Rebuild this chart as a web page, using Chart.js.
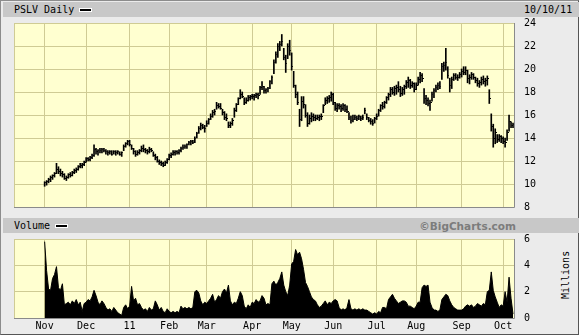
<!DOCTYPE html>
<html>
<head>
<meta charset="utf-8">
<script src="https://cdn.jsdelivr.net/npm/chart.js@4.4.0/dist/chart.umd.min.js"></script>
<style>
  body { margin: 0; width: 579px; height: 335px; background: #ebebeb; position: relative; overflow: hidden;
         font-family: "DejaVu Sans Mono", monospace; font-size: 10px; color: #000; }
  .frame { position: absolute; left: 0; top: 0; width: 577px; height: 333px; border: 1px solid #8c8c8c;
           border-right-color: #555; border-bottom-color: #555; }
  .band { position: absolute; left: 3px; width: 576px; height: 15px; background: #c8c8c8; }
  .txt { position: absolute; line-height: 12px; white-space: nowrap; }
  .dash { position: absolute; width: 11px; height: 2px; background: #000; border: 1px solid #fff; }
  canvas { position: absolute; left: 0; }
  #pc { top: 0; }
  #vc { top: 230px; }
  .mil { position: absolute; left: 542px; top: 269px; width: 48px; text-align: center; transform: rotate(-90deg);
         line-height: 12px; }
</style>
</head>
<body>
<div class="frame"></div>
<div class="band" style="top:2px"></div>
<div class="band" style="top:218px"></div>
<div class="txt" style="left:14px;top:4px">PSLV Daily</div>
<div class="dash" style="left:79px;top:8px"></div>
<div class="txt" style="left:524px;top:4px">10/10/11</div>
<div class="txt" style="left:14px;top:220px">Volume</div>
<div class="dash" style="left:55px;top:224px"></div>
<div class="txt" style="left:380px;width:136px;text-align:right;top:220px;font-family:'DejaVu Sans',sans-serif;font-weight:bold;color:#7c7c7c;font-size:10.5px">©BigCharts.com</div>
<div class="mil">Millions</div>
<canvas id="pc" width="579" height="215"></canvas>
<canvas id="vc" width="579" height="105"></canvas>
<script>
// trading days Oct 11 2010 .. Oct 10 2011; PSLV data begins Nov 1 2010 (index 15)
const leadDays = 15
const monthNames = ['Nov', 'Dec', '11', 'Feb', 'Mar', 'Apr', 'May', 'Jun', 'Jul', 'Aug', 'Sep', 'Oct']
const monthStart = [15, 36, 58, 78, 97, 120, 140, 161, 183, 203, 226, 247]
const priceTicks = [8, 10, 12, 14, 16, 18, 20, 22, 24]
const volumeTicks = [0, 2, 4, 6]

const low = [
  9.8, 9.9, 10.1, 10.2, 10.4, 10.6, 10.9, 10.9, 10.7, 10.6, 10.4, 10.3, 10.5, 10.6, 10.7, 10.9, 11.0, 11.2, 11.4, 11.4, 11.6,
  11.9, 12.0, 12.0, 12.2, 12.4, 12.6, 12.5, 12.7, 12.7, 12.8, 12.6, 12.5, 12.6, 12.5, 12.6, 12.5, 12.6, 12.5, 12.4, 12.9, 13.2, 13.4,
  13.3, 13.0, 12.6, 12.4, 12.5, 12.6, 12.8, 12.8, 12.7, 12.6, 12.7, 12.8, 12.4, 12.1, 11.9, 11.7, 11.6, 11.5, 11.6, 11.8,
  12.1, 12.3, 12.5, 12.5, 12.6, 12.6, 12.8, 13.0, 13.1, 13.1, 13.4, 13.4, 13.5, 13.6, 14.0, 14.4, 14.7, 14.8, 14.5,
  15.0, 15.2, 15.6, 15.8, 16.0, 16.5, 16.6, 16.5, 16.0, 15.6, 15.5, 14.9, 14.9, 15.1, 15.8, 16.3, 16.9, 17.4, 17.5, 16.9, 17.0, 17.2, 17.3,
  17.4, 17.3, 17.5, 17.4, 17.8, 18.2, 17.9, 17.9, 18.0, 18.3, 18.7, 19.6, 20.5, 21.0, 21.6, 22.0, 20.8, 19.7, 20.9, 21.2,
  19.9, 18.4, 17.5, 16.9, 15.0, 15.5, 16.6, 15.8, 15.0, 15.2, 15.4, 15.5, 15.5, 15.6, 15.5, 15.6, 16.2, 16.9, 17.0, 17.1, 17.2,
  16.9, 16.4, 16.3, 16.5, 16.3, 16.4, 16.3, 16.2, 15.6, 15.3, 15.4, 15.6, 15.5, 15.6, 15.5, 15.6, 16.1, 15.6, 15.4, 15.2, 15.1, 15.3,
  15.6, 15.9, 16.3, 16.5, 16.6, 17.0, 17.3, 17.6, 17.8, 17.7, 17.8, 18.0, 17.6, 17.7, 17.8, 18.3, 18.4, 18.3, 18.4, 18.0,
  18.2, 18.6, 18.8, 18.9, 17.0, 16.9, 16.8, 16.4, 17.2, 17.5, 18.0, 18.2, 18.3, 19.1, 19.8, 19.9, 19.2, 18.0, 18.3, 19.0, 19.1, 19.0, 19.2,
  19.3, 19.5, 19.5, 18.8, 18.7, 19.1, 19.1, 18.8, 18.5, 18.4, 18.6, 18.7, 18.5, 18.6, 17.0, 14.6, 13.2, 13.5, 13.6, 13.7, 13.6,
  13.5, 13.2, 13.8, 14.6, 14.9, 14.9
]
const high = [
  10.2, 10.3, 10.5, 10.7, 10.8, 11.0, 11.8, 11.5, 11.3, 11.1, 10.9, 10.7, 10.9, 11.0, 11.1, 11.3, 11.4, 11.6, 11.8, 11.8, 12.0,
  12.3, 12.3, 12.4, 12.6, 13.4, 13.1, 13.0, 13.1, 13.1, 13.1, 13.0, 12.9, 12.9, 12.9, 12.9, 12.9, 12.9, 12.8, 12.8, 13.4, 13.6, 13.8,
  13.8, 13.4, 13.1, 12.9, 12.9, 13.0, 13.3, 13.4, 13.1, 13.0, 13.2, 13.1, 12.8, 12.6, 12.4, 12.1, 12.0, 11.9, 12.0, 12.2,
  12.6, 12.7, 12.9, 12.9, 12.9, 13.0, 13.2, 13.4, 13.4, 13.5, 13.7, 13.8, 13.8, 14.1, 14.5, 15.0, 15.3, 15.2, 15.1,
  15.5, 15.7, 16.1, 16.4, 16.5, 17.1, 17.0, 17.0, 16.5, 16.3, 16.1, 15.4, 15.4, 15.7, 16.6, 17.0, 17.5, 18.2, 18.0, 17.5, 17.5, 17.7, 17.7,
  17.8, 17.8, 17.9, 17.9, 18.5, 18.9, 18.5, 18.3, 18.4, 19.0, 19.4, 20.8, 21.5, 22.2, 22.4, 23.0, 21.8, 21.2, 22.2, 22.5,
  21.4, 19.8, 18.6, 18.0, 16.5, 17.6, 17.6, 16.9, 16.2, 16.0, 16.2, 16.1, 16.0, 16.0, 16.0, 16.1, 16.9, 17.5, 17.6, 17.7, 18.0,
  17.9, 17.1, 17.0, 17.0, 16.9, 17.0, 16.9, 16.8, 16.2, 15.9, 16.0, 16.0, 15.9, 16.0, 15.9, 16.0, 16.6, 16.1, 15.8, 15.7, 15.6, 15.8,
  16.1, 16.5, 16.9, 17.1, 17.2, 17.6, 17.9, 18.4, 18.4, 18.5, 18.6, 18.9, 18.5, 18.4, 18.6, 19.0, 19.3, 19.1, 18.9, 18.8,
  18.8, 19.3, 19.7, 19.6, 18.3, 17.7, 17.5, 17.3, 18.0, 18.3, 18.6, 18.8, 18.9, 20.5, 20.6, 21.8, 20.2, 19.2, 19.3, 19.6, 19.6, 19.5, 19.7,
  20.0, 20.2, 20.2, 19.9, 19.5, 19.7, 19.6, 19.3, 19.2, 19.0, 19.3, 19.4, 19.2, 19.4, 18.2, 16.1, 15.2, 14.8, 14.3, 14.3, 14.2,
  14.1, 14.0, 14.7, 16.0, 15.4, 15.3
]
const close = [
  10.1, 10.2, 10.4, 10.6, 10.7, 10.9, 11.3, 11.1, 10.9, 10.8, 10.5, 10.6, 10.8, 10.7, 11.0, 11.2, 11.3, 11.5, 11.6, 11.7, 11.9,
  12.2, 12.1, 12.3, 12.5, 13.0, 12.8, 12.9, 12.9, 13.0, 12.9, 12.8, 12.7, 12.8, 12.6, 12.8, 12.7, 12.8, 12.6, 12.7, 13.3, 13.5, 13.7,
  13.4, 13.1, 12.8, 12.6, 12.7, 12.9, 13.1, 13.0, 12.9, 12.8, 13.0, 12.9, 12.5, 12.3, 12.0, 11.9, 11.8, 11.6, 11.9, 12.1,
  12.5, 12.6, 12.7, 12.8, 12.7, 12.9, 13.1, 13.2, 13.3, 13.4, 13.6, 13.7, 13.6, 14.0, 14.4, 14.8, 15.1, 14.9, 14.8,
  15.3, 15.6, 15.9, 16.2, 16.3, 16.8, 16.7, 16.6, 16.2, 15.8, 15.7, 15.1, 15.3, 15.5, 16.4, 16.9, 17.4, 17.8, 17.6, 17.1, 17.3, 17.5, 17.6,
  17.6, 17.7, 17.8, 17.7, 18.4, 18.5, 18.1, 18.2, 18.3, 18.9, 19.3, 20.6, 21.3, 22.0, 22.1, 22.4, 21.0, 20.5, 22.0, 21.6,
  20.2, 18.6, 17.8, 17.1, 15.6, 17.2, 16.9, 16.0, 15.3, 15.7, 15.9, 15.8, 15.7, 15.8, 15.9, 15.9, 16.8, 17.3, 17.4, 17.5, 17.8,
  17.1, 16.6, 16.8, 16.7, 16.6, 16.8, 16.5, 16.3, 15.8, 15.5, 15.6, 15.8, 15.7, 15.9, 15.7, 15.8, 16.4, 15.8, 15.5, 15.4, 15.3, 15.7,
  15.9, 16.4, 16.8, 16.7, 17.1, 17.5, 17.8, 18.2, 18.0, 18.3, 18.4, 18.2, 17.9, 18.2, 18.5, 18.8, 19.0, 18.6, 18.7, 18.2,
  18.6, 19.1, 19.4, 19.2, 17.4, 17.3, 17.0, 17.1, 17.8, 18.1, 18.4, 18.6, 18.5, 20.2, 20.3, 20.6, 19.4, 18.6, 19.1, 19.4, 19.3, 19.3, 19.5,
  19.8, 19.7, 19.9, 19.2, 19.3, 19.5, 19.3, 19.0, 18.7, 18.8, 19.1, 18.9, 19.0, 19.2, 17.4, 15.0, 14.0, 14.5, 13.9, 14.1, 14.0,
  13.7, 13.6, 14.5, 15.4, 15.1, 15.2
]
// volume, millions of shares
const volume = [
  5.8, 3.6, 2.2, 2.1, 3.0, 3.3, 3.9, 2.3, 2.1, 2.6, 1.0, 1.1, 1.2, 1.0, 1.3, 1.1, 1.4, 1.0, 1.2, 0.5, 1.1,
  1.2, 1.4, 1.3, 1.6, 2.1, 1.7, 1.2, 1.0, 1.3, 1.1, 0.8, 0.6, 0.7, 0.5, 0.8, 0.6, 0.4, 0.3, 0.2, 0.8, 1.0, 0.7,
  0.9, 2.4, 1.3, 1.5, 1.0, 1.1, 0.8, 0.6, 0.7, 0.5, 0.8, 0.6, 0.7, 1.3, 1.0, 0.6, 0.8, 0.5, 0.4, 0.7,
  0.5, 0.4, 0.5, 0.4, 0.5, 0.4, 0.9, 0.7, 0.8, 0.7, 0.8, 0.7, 0.8, 2.0, 2.1, 1.9, 1.3, 1.0, 1.2,
  1.1, 1.3, 1.5, 1.8, 1.2, 1.4, 1.7, 1.5, 2.0, 2.2, 1.9, 2.5, 1.3, 1.0, 1.2, 1.1, 1.5, 2.0, 1.7, 0.9, 0.7, 1.0, 0.8,
  1.2, 1.1, 1.4, 1.2, 1.3, 1.7, 1.5, 1.0, 1.1, 1.0, 2.6, 2.8, 2.5, 2.7, 3.0, 3.5, 2.5, 2.0, 1.7, 2.5,
  4.1, 4.3, 5.2, 4.8, 5.0, 4.5, 3.7, 2.7, 2.4, 2.0, 1.6, 1.4, 1.3, 1.0, 0.8, 0.9, 1.1, 1.3, 1.0, 1.2, 1.1,
  1.3, 1.4, 1.3, 0.8, 0.6, 0.7, 0.6, 0.8, 1.4, 0.7, 0.6, 0.7, 0.6, 0.7, 0.6, 0.7, 0.6, 0.6, 0.5, 0.4, 0.3, 0.4,
  0.3, 0.5, 0.4, 0.8, 0.8, 0.7, 1.4, 1.6, 1.8, 1.5, 1.3, 1.1, 1.2, 1.3, 1.3, 1.2, 0.9, 0.9, 0.8, 0.7,
  0.9, 1.2, 1.2, 2.3, 2.5, 2.4, 2.5, 1.2, 0.8, 0.6, 0.6, 0.5, 0.6, 1.4, 1.6, 1.8, 1.7, 1.3, 1.0, 0.8, 0.7, 0.6, 0.6,
  0.6, 0.7, 0.9, 1.0, 0.9, 1.0, 0.8, 0.9, 1.1, 1.0, 0.9, 1.1, 1.0, 2.0, 2.1, 3.5, 2.1, 1.6, 1.2, 0.8, 1.0,
  0.9, 2.0, 1.2, 3.1, 1.5, 0.3
]

const days = []
for (let d = 0; d < leadDays + close.length; d++) days.push(d)
const pad = Array(leadDays).fill(null)

const gridTan = '#cfcb94'
const plotBg = '#ffffd0'
const tickFont = { family: 'DejaVu Sans Mono', size: 10 }

const closeTick = document.createElement('canvas')
closeTick.width = 3
closeTick.height = 1
const ct = closeTick.getContext('2d')
ct.fillStyle = '#000'
ct.fillRect(2, 0, 1, 1)

const plotFrame = {
  id: 'plotFrame',
  beforeDraw(chart) {
    const a = chart.chartArea, c = chart.ctx
    c.save()
    c.fillStyle = plotBg
    c.fillRect(a.left, a.top, a.right - a.left, a.bottom - a.top)
    c.restore()
  },
  afterDraw(chart) {
    const a = chart.chartArea, c = chart.ctx
    c.save()
    c.lineWidth = 1
    c.strokeStyle = gridTan
    c.beginPath()
    c.moveTo(a.left + 0.5, a.bottom); c.lineTo(a.left + 0.5, a.top + 0.5); c.lineTo(a.right, a.top + 0.5)
    c.stroke()
    c.strokeStyle = '#8a8a8a'
    c.beginPath()
    c.moveTo(a.right + 0.5, a.top); c.lineTo(a.right + 0.5, a.bottom + 0.5); c.lineTo(a.left, a.bottom + 0.5)
    c.stroke()
    c.restore()
  }
}

const monthGrid = (ctx) => monthStart.includes(ctx.index) ? gridTan : 'transparent'
// right-hand value axis: fixed width, no extra label padding above/below
const fitRight = (s) => { s.width = 65; s.paddingTop = 0; s.paddingBottom = 0 }

const xBase = {
  type: 'category',
  offset: true,
  grid: { color: monthGrid, offset: false, drawTicks: false },
  border: { display: false },
}

new Chart(document.getElementById('pc'), {
  data: {
    labels: days,
    datasets: [{
      type: 'bar',
      data: pad.concat(low.map((l, k) => [l, high[k]])),
      backgroundColor: '#000',
      barThickness: 1,
      borderWidth: 0,
    }, {
      type: 'line',
      data: pad.concat(close),
      showLine: false,
      pointStyle: closeTick,
      pointRadius: 1,
      pointHoverRadius: 1,
    }],
  },
  options: {
    responsive: false,
    animation: false,
    events: [],
    layout: { autoPadding: false, padding: { left: 14, top: 23, bottom: 8, right: 0 } },
    plugins: { legend: { display: false }, tooltip: { enabled: false } },
    scales: {
      x: Object.assign({}, xBase, {
        ticks: { display: false },
        afterFit: (s) => { s.height = 0 },
      }),
      y: {
        position: 'right',
        min: 8,
        max: 24,
        afterBuildTicks: (s) => { s.ticks = priceTicks.map((v) => ({ value: v })) },
        afterFit: fitRight,
        grid: { color: gridTan, drawTicks: false },
        border: { display: false },
        ticks: { font: tickFont, color: '#000', padding: 10 },
      },
    },
  },
  plugins: [plotFrame],
})

new Chart(document.getElementById('vc'), {
  type: 'line',
  data: {
    labels: days,
    datasets: [{
      data: pad.concat(volume),
      backgroundColor: '#000',
      borderColor: '#000',
      borderWidth: 1,
      fill: 'origin',
      tension: 0,
      pointRadius: 0,
    }],
  },
  options: {
    responsive: false,
    animation: false,
    events: [],
    layout: { autoPadding: false, padding: { left: 14, top: 9, bottom: 0, right: 0 } },
    plugins: { legend: { display: false }, tooltip: { enabled: false } },
    scales: {
      x: Object.assign({}, xBase, {
        ticks: {
          autoSkip: false,
          maxRotation: 0,
          font: tickFont,
          color: '#000',
          padding: 2,
          callback: (v, i) => { const m = monthStart.indexOf(i); return m >= 0 ? monthNames[m] : '' },
        },
        afterFit: (s) => { s.height = 17 },
      }),
      y: {
        position: 'right',
        min: 0,
        max: 6,
        afterBuildTicks: (s) => { s.ticks = volumeTicks.map((v) => ({ value: v })) },
        afterFit: fitRight,
        grid: { color: gridTan, drawTicks: false },
        border: { display: false },
        ticks: { font: tickFont, color: '#000', padding: 10 },
      },
    },
  },
  plugins: [plotFrame],
})
</script>
</body>
</html>
